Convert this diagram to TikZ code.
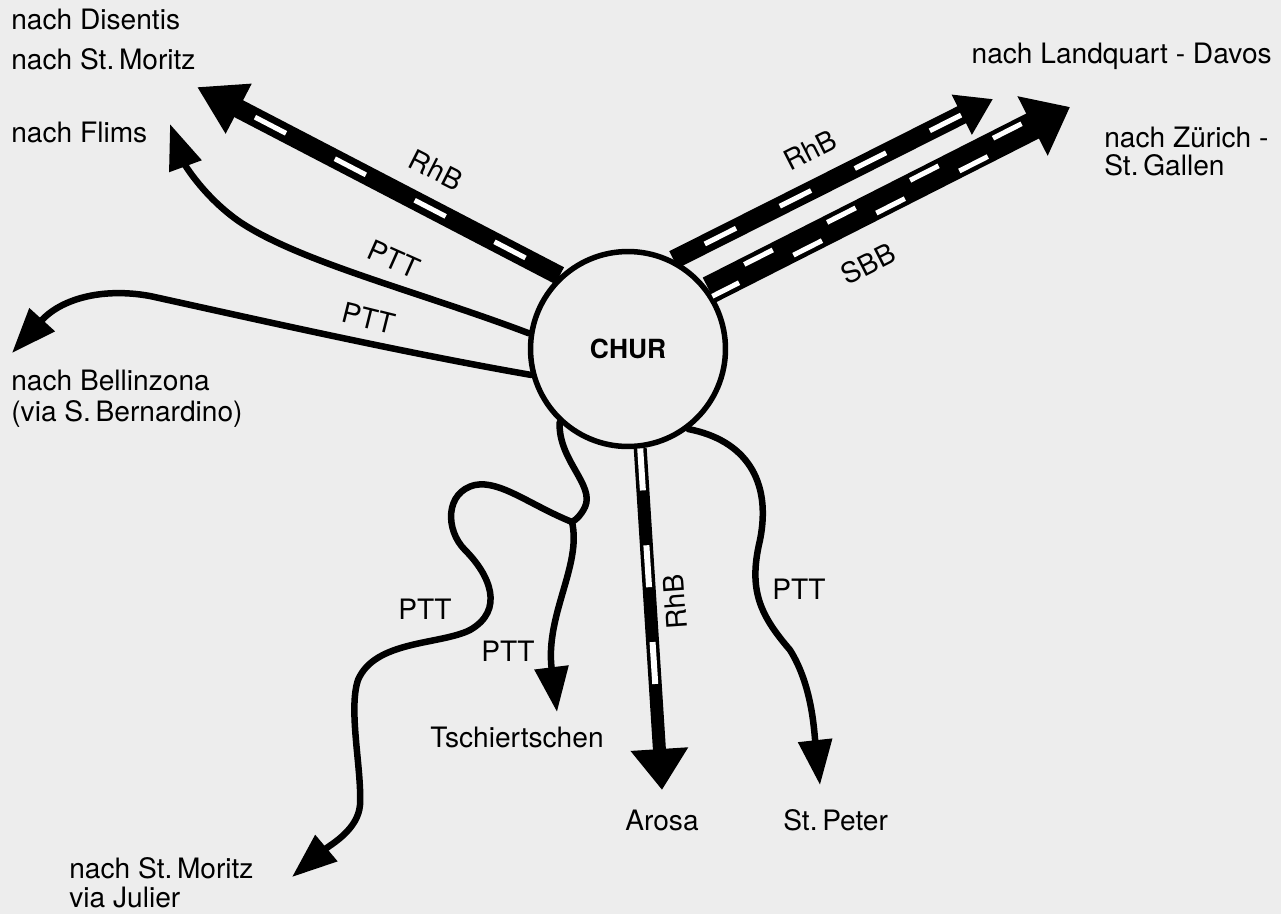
\documentclass[tikz,border=0pt]{standalone}
\usepackage{fontspec}
\setmainfont{TeX Gyre Heros}
\usetikzlibrary{arrows.meta, positioning}

\begin{document}
\begin{tikzpicture}[x=0.02cm, y=-0.02cm, font=\fontsize{16}{19}\selectfont]
 \tikzstyle{lbl}=[inner sep=0pt, anchor=base west]
 \tikzstyle{tag}=[inner sep=0pt]
 \tikzstyle{ptt}=[line width=0.13cm, line cap=round,
   -{Triangle[length=9mm,width=6.6mm]}]
 \tikzstyle{bus}=[line width=0.13cm, line cap=round]
 \tikzstyle{rail}=[line width=0.38cm]
 \tikzstyle{ties}=[draw=white, line width=0.1cm]
 \useasboundingbox (0,0) rectangle (1281,914);
 \fill[black!7] (0,0) rectangle (1281,914);

 \node (chur) [circle, draw, line width=0.11cm, minimum size=3.9cm,
   font=\fontsize{15}{18}\selectfont\bfseries] at (628,349) {CHUR};

 % Ziele
 \node (disentis) [lbl] at (11,29) {nach Disentis};
 \node (stmoritz) [lbl] at (11,69) {nach St.\,Moritz};
 \node (flims) [lbl] at (11,142) {nach Flims};
 \node (bellinzona) [lbl] at (11,390) {nach Bellinzona};
 \node (bernardino) [lbl] at (11,421) {(via S.\,Bernardino)};
 \node (landquart) [lbl, anchor=base east] at (1272,63) {nach Landquart - Davos};
 \node (zuerich) [lbl] at (1104,147) {nach Zürich -};
 \node (gallen) [lbl] at (1104,175) {St.\,Gallen};
 \node (tschiert) [lbl] at (430,747) {Tschiertschen};
 \node (arosa) [lbl] at (625,830) {Arosa};
 \node (stpeter) [lbl] at (783,830) {St.\,Peter};
 \node (julier) [lbl] at (69,878) {nach St.\,Moritz};
 \node (viajulier) [lbl] at (69,907) {via Julier};

 \coordinate (tipdis) at (197,87);
 \coordinate (tipflims) at (170,124);
 \coordinate (tipbell) at (12,353);
 \coordinate (tiplq) at (993,99);
 \coordinate (tipzh) at (1070,107);
 \coordinate (tiparo) at (662,790);
 \coordinate (tipstp) at (820,785);
 \coordinate (tiptsch) at (557,712);
 \coordinate (tipjul) at (292,877);
 \coordinate (knot) at (572,522);

 % Bahn
 \draw[rail, -{Triangle[length=9.4mm,width=10.6mm]}] (chur.133) -- (tipdis);
 \draw[ties, dash pattern=on 0.7cm off 1.1cm, dash phase=1.03cm,
   shorten >=9mm] (chur.133) -- (tipdis);
 \draw[rail, -{Triangle[length=7mm,width=8.5mm]}] (chur.63) -- (tiplq);
 \draw[ties, dash pattern=on 0.7cm off 0.98cm, dash phase=0.98cm,
   shorten >=7mm] (chur.63) -- (tiplq);
 \draw[rail, line width=0.56cm, -{Triangle[length=8.4mm,width=12.8mm]}]
   (chur.36) -- (tipzh);
 \draw[ties, dash pattern=on 0.64cm off 1.22cm, dash phase=1cm,
   shorten >=8.4mm, transform canvas={shift={(-3.2,-6.2)}}] (chur.36) -- (tipzh);
 \draw[ties, dash pattern=on 0.64cm off 1.22cm, dash phase=1.9cm,
   shorten >=8.4mm, transform canvas={shift={(3.2,6.2)}}] (chur.36) -- (tipzh);
 \draw[rail, line width=0.26cm, -{Triangle[length=8.2mm,width=11mm]}]
   (chur.-83) -- (tiparo);
 \draw[ties, line width=0.12cm, dash pattern=on 0.84cm off 1.1cm,
   shorten >=2cm] (chur.-83) -- (tiparo);

 % Postauto
 \draw[ptt] (chur.171) .. controls (420,292) and (300,262) .. (240,222)
   .. controls (205,198) and (185,165) .. (tipflims);
 \draw[ptt] (chur.195) .. controls (400,352) and (250,318) .. (150,296)
   .. controls (100,287) and (60,300) .. (tipbell);
 \draw[ptt] (chur.-53) .. controls (745,440) and (772,480) .. (760,540)
   .. controls (748,590) and (760,615) .. (790,650)
   .. controls (812,685) and (814,730) .. (tipstp);
 \draw[bus] (chur.-133) .. controls (558,460) and (595,485) .. (585,507)
   .. controls (581,515) and (577,519) .. (knot);
 \draw[ptt] (knot) .. controls (582,565) and (545,615) .. (tiptsch);
 \draw[ptt] (knot) .. controls (530,505) and (500,480) .. (475,485)
   .. controls (445,492) and (445,530) .. (465,550)
   .. controls (490,575) and (505,610) .. (470,630)
   .. controls (440,645) and (375,640) .. (358,680)
   .. controls (348,710) and (362,770) .. (360,805)
   .. controls (358,830) and (330,845) .. (tipjul);

 \node (rhbw) [tag, rotate=-27] at (436,170) {RhB};
 \node (pttflims) [tag, rotate=-24] at (394,259) {PTT};
 \node (pttbell) [tag, rotate=-14] at (369,318) {PTT};
 \node (rhbn) [tag, rotate=27] at (810,150) {RhB};
 \node (sbb) [tag, rotate=27] at (868,264) {SBB};
 \node (rhbs) [tag, rotate=94] at (675,602) {RhB};
 \node (pttstp) [tag] at (799,589) {PTT};
 \node (pttjul) [tag] at (425,609) {PTT};
 \node (ptttsch) [tag] at (508,651) {PTT};
\end{tikzpicture}
\end{document}
